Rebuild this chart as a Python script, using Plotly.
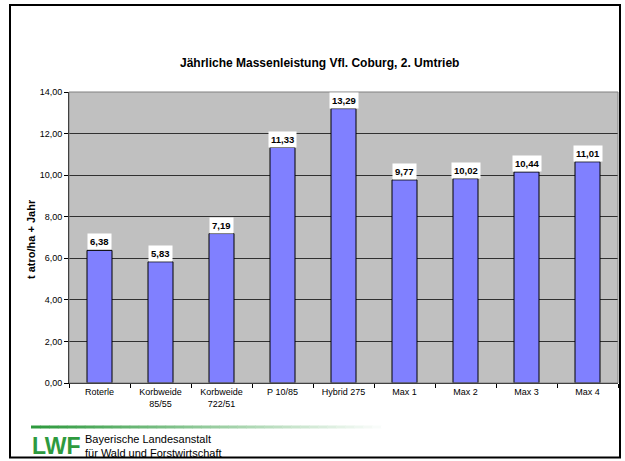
import plotly.graph_objects as go

categories = ["Roterle", "Korbweide<br>85/55", "Korbweide<br>722/51", "P 10/85", "Hybrid 275",
              "Max 1", "Max 2", "Max 3", "Max 4"]
bar_heights = [6.38, 5.83, 7.19, 11.33, 13.20, 9.77, 9.83, 10.15, 10.64]
bar_labels = ["6,38", "5,83", "7,19", "11,33", "13,29", "9,77", "10,02", "10,44", "11,01"]

title_text = "Jährliche Massenleistung Vfl. Coburg, 2. Umtrieb"
y_title = "t atro/ha + Jahr"

W, H = 625, 461
L, R, T, B = 69, 7, 92, 78
pw, ph = W - L - R, H - T - B

def px(x):
    return (x - L) / pw

def py(y):
    return (H - B - y) / ph

fig = go.Figure()
fig.add_trace(go.Bar(
    x=categories, y=bar_heights, width=0.41,
    marker=dict(color="#8080FF", line=dict(color="#000000", width=1)),
    hoverinfo="skip",
))

annotations = []
for c, v, t in zip(categories, bar_heights, bar_labels):
    annotations.append(dict(
        x=c, y=v, xref="x", yref="y", text="<b>" + t + "</b>", showarrow=False,
        yanchor="bottom", yshift=0, bgcolor="#FFFFFF", borderpad=2,
        font=dict(family="Liberation Sans, Arial", size=9.5, color="#000000"),
    ))

annotations.append(dict(
    x=px(319.5), y=py(63), xref="paper", yref="paper", text="<b>" + title_text + "</b>",
    showarrow=False, xanchor="center", yanchor="middle",
    font=dict(family="Liberation Sans, Arial", size=12, color="#000000"),
))
annotations.append(dict(
    x=px(31), y=py(239), xref="paper", yref="paper", text="<b>" + y_title + "</b>",
    showarrow=False, textangle=-90, xanchor="center", yanchor="middle",
    font=dict(family="Liberation Sans, Arial", size=11, color="#000000"),
))
annotations.append(dict(
    x=px(30), y=py(446), xref="paper", yref="paper", text="<b>LWF</b>",
    showarrow=False, xanchor="left", yanchor="middle",
    font=dict(family="Liberation Sans Narrow, Liberation Sans, Arial", size=23, color="#2E9A3E"),
))
annotations.append(dict(
    x=px(83), y=py(446), xref="paper", yref="paper",
    text="Bayerische Landesanstalt<br>für Wald und Forstwirtschaft",
    showarrow=False, xanchor="left", yanchor="middle", align="left",
    font=dict(family="Liberation Sans, Arial", size=11, color="#000000"),
))

shapes = []
# outer frame
shapes.append(dict(type="rect", xref="paper", yref="paper",
                   x0=px(10), x1=px(620), y0=py(457.5), y1=py(5),
                   line=dict(color="#000000", width=2), fillcolor="rgba(0,0,0,0)", layer="below"))
# gradient line
n = 40
x_start, x_end = 31, 390
c0 = (46, 154, 62)
for i in range(n):
    f = i / (n - 1)
    col = tuple(int(c0[k] + (255 - c0[k]) * f) for k in range(3))
    shapes.append(dict(type="rect", xref="paper", yref="paper",
                       x0=px(x_start + (x_end - x_start) * i / n),
                       x1=px(x_start + (x_end - x_start) * (i + 1) / n + 0.5),
                       y0=py(428.5), y1=py(425.5),
                       line=dict(width=0), fillcolor="rgb(%d,%d,%d)" % col))

fig.update_layout(
    width=W, height=H,
    margin=dict(l=L, r=R, t=T, b=B),
    paper_bgcolor="#FFFFFF", plot_bgcolor="#C0C0C0",
    separators=",.",
    showlegend=False,
    bargap=0.59,
    annotations=annotations,
    shapes=shapes,
    xaxis=dict(
        showline=True, linecolor="#000000", linewidth=1, mirror=False,
        ticks="outside", tickson="boundaries", ticklen=4, tickcolor="#000000",
        tickfont=dict(family="Liberation Sans, Arial", size=9, color="#000000"),
        showgrid=False,
    ),
    yaxis=dict(
        range=[0, 14], dtick=2, tickformat=".2f",
        showline=True, linecolor="#000000", linewidth=1,
        ticks="outside", ticklen=4, tickcolor="#000000",
        showgrid=True, gridcolor="#303030", gridwidth=1,
        tickfont=dict(family="Liberation Sans, Arial", size=9, color="#000000"),
        zeroline=False,
    ),
)
fig.add_shape(type="rect", xref="paper", yref="paper", x0=0, x1=1, y0=0, y1=1,
              line=dict(color="#808080", width=1), fillcolor="rgba(0,0,0,0)")

fig.write_html("out.html", config={"displayModeBar": False},
               post_script="document.body.style.margin='0';document.body.style.padding='0';")
